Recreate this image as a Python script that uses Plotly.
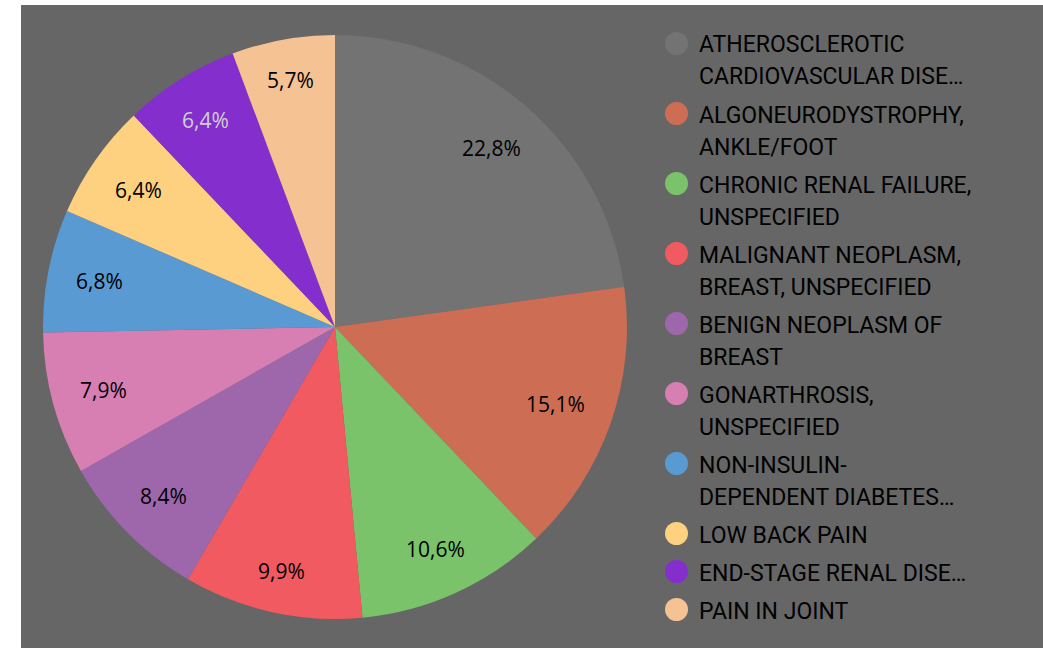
import math
import plotly.graph_objects as go

W, H = 1043, 648

# data
categories = [
    "ATHEROSCLEROTIC CARDIOVASCULAR DISEASE",
    "ALGONEURODYSTROPHY, ANKLE/FOOT",
    "CHRONIC RENAL FAILURE, UNSPECIFIED",
    "MALIGNANT NEOPLASM, BREAST, UNSPECIFIED",
    "BENIGN NEOPLASM OF BREAST",
    "GONARTHROSIS, UNSPECIFIED",
    "NON-INSULIN-DEPENDENT DIABETES MELLITUS",
    "LOW BACK PAIN",
    "END-STAGE RENAL DISEASE",
    "PAIN IN JOINT",
]
shares = [22.8, 15.1, 10.6, 9.9, 8.4, 7.9, 6.8, 6.4, 6.4, 5.7]
legend_lines = [
    ["ATHEROSCLEROTIC", "CARDIOVASCULAR DISE…"],
    ["ALGONEURODYSTROPHY,", "ANKLE/FOOT"],
    ["CHRONIC RENAL FAILURE,", "UNSPECIFIED"],
    ["MALIGNANT NEOPLASM,", "BREAST, UNSPECIFIED"],
    ["BENIGN NEOPLASM OF", "BREAST"],
    ["GONARTHROSIS,", "UNSPECIFIED"],
    ["NON-INSULIN-", "DEPENDENT DIABETES…"],
    ["LOW BACK PAIN"],
    ["END-STAGE RENAL DISE…"],
    ["PAIN IN JOINT"],
]
colors = ["#737373", "#cd6d54", "#7ac36a", "#f15a60", "#9e66ab",
          "#d77fb3", "#599ad3", "#fdd17f", "#842fcd", "#f4c293"]
label_colors = ["#000000"] * 8 + ["#cfcfcf", "#000000"]


# pixel -> paper fraction
def px(x):
    return x / W


def py(y):
    return 1 - y / H


# pie geometry (pixels)
cx, cy, R = 335, 327, 292

fig = go.Figure()
fig.add_trace(go.Pie(
    labels=categories,
    values=shares,
    sort=False,
    direction="clockwise",
    rotation=0,
    marker=dict(colors=colors, line=dict(width=0)),
    textinfo="none",
    hoverinfo="label+percent",
    showlegend=False,
    domain=dict(x=[px(cx - R), px(cx + R)], y=[py(cy + R), py(cy - R)]),
))

annotations = []
shapes = [dict(type="rect", xref="paper", yref="paper", layer="below",
               x0=px(21), x1=1, y0=0, y1=py(5),
               fillcolor="#666666", line=dict(width=0))]

# percentage labels near the rim
total = sum(shares)
cum = 0
for v, tc in zip(shares, label_colors):
    mid = (cum + v / 2) / total
    cum += v
    th = 2 * math.pi * mid
    s, c = math.sin(th), math.cos(th)
    txt = f"{v:.1f}".replace(".", ",") + "%"
    w2 = (len(txt) - 4) * 6.1 + 24.2
    r = 266 - (w2 * abs(s) + 11 * abs(c))
    annotations.append(dict(
        x=px(cx + r * s), y=py(cy - r * c), xref="paper", yref="paper",
        text=txt, showarrow=False, xanchor="center", yanchor="middle",
        font=dict(family="Open Sans", size=21, color=tc)))

# custom legend with round markers
y = 43.5
for lines, col in zip(legend_lines, colors):
    shapes.append(dict(type="circle", xref="paper", yref="paper",
                       x0=px(665), x1=px(688), y0=py(y + 11.5), y1=py(y - 11.5),
                       fillcolor=col, line=dict(width=0)))
    for i, ln in enumerate(lines):
        annotations.append(dict(
            x=px(697), y=py(y + i * 32 + 1.5), xref="paper", yref="paper",
            text=ln, showarrow=False, xanchor="left", yanchor="middle",
            font=dict(family="Roboto", size=23, color="#000000")))
    y += len(lines) * 32 + 6

fig.update_layout(
    width=W, height=H,
    margin=dict(l=0, r=0, t=0, b=0),
    paper_bgcolor="white",
    plot_bgcolor="white",
    shapes=shapes,
    annotations=annotations,
)

# no page margin / scrollbars; page behind the figure matches the panel grey
page_js = ("document.body.style.margin = '0';"
           "document.body.style.overflow = 'hidden';"
           "document.documentElement.style.overflow = 'hidden';"
           "document.documentElement.style.background = '#666666';"
           "document.body.style.background = '#666666';")
fig.write_html("out.html", config={"displayModeBar": False}, post_script=page_js)
